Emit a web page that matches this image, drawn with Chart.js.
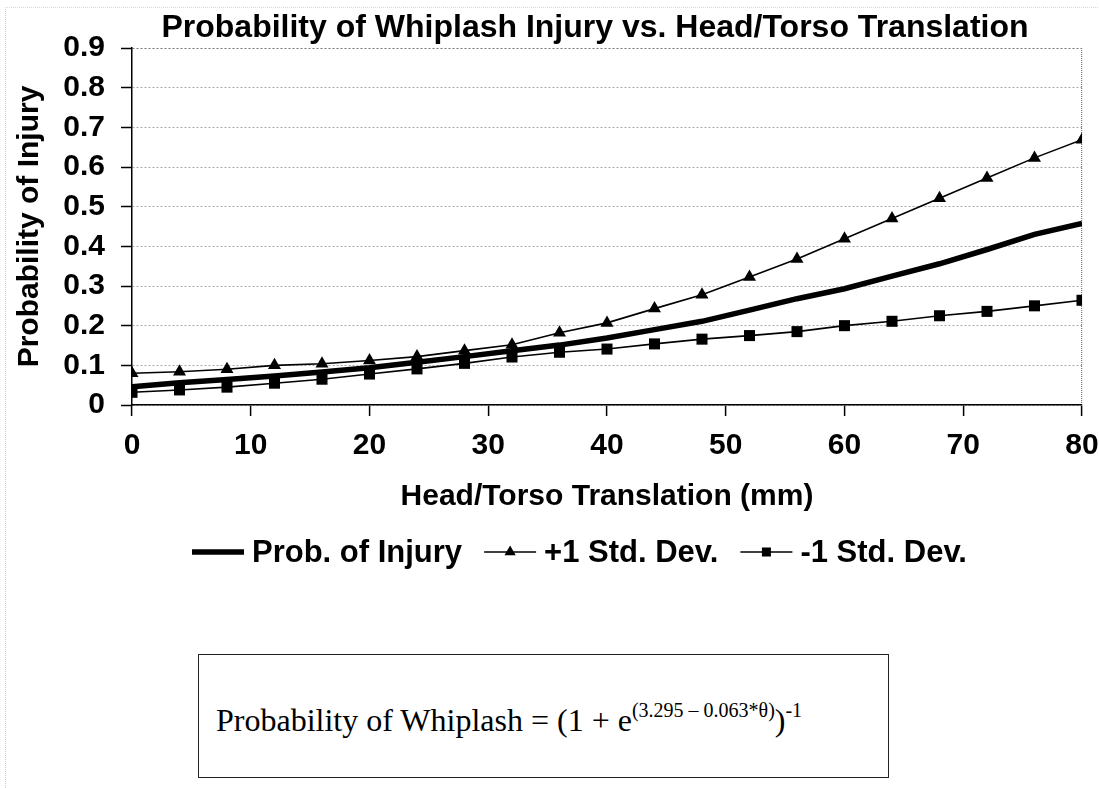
<!DOCTYPE html>
<html>
<head>
<meta charset="utf-8">
<script src="https://cdn.jsdelivr.net/npm/chart.js@4.4.0/dist/chart.umd.min.js"></script>
<style>
  html, body { margin: 0; padding: 0; background: #fff; }
  #wrap { position: relative; width: 1099px; height: 788px; overflow: hidden; }
  #c { position: absolute; left: 0; top: 0; }
  #frame { position: absolute; left: 5px; top: 7px; width: 1200px; height: 900px;
           border-left: 1px dotted #c8c8c8; border-top: 1px dotted #d8d8d8; }
  #formula { position: absolute; left: 198px; top: 654px; width: 691px; height: 124px;
             box-sizing: border-box; border: 1.5px solid #222; background: #fff; }
  #formula .f { position: absolute; left: 17px; top: 49px; white-space: nowrap;
                font-family: "Liberation Serif", "Times New Roman", serif; font-size: 32px;
                line-height: 32px; color: #000; }
  #formula sup { font-size: 20px; line-height: 0; vertical-align: 14px; }
</style>
</head>
<body>
<div id="wrap">
  <div id="frame"></div>
  <canvas id="c" width="1099" height="788"></canvas>
  <div id="formula"><span class="f">Probability of Whiplash = (1 + e<sup>(3.295 – 0.063*θ)</sup>)<sup>-1</sup></span></div>
</div>
<script>
// ---- data ----
const titleText = 'Probability of Whiplash Injury vs. Head/Torso Translation';
const xTitle = 'Head/Torso Translation (mm)';
const yTitle = 'Probability of Injury';
const translation = [0, 4, 8, 12, 16, 20, 24, 28, 32, 36, 40, 44, 48, 52, 56, 60, 64, 68, 72, 76, 80];
const probInjury = [0.046, 0.056, 0.064, 0.073, 0.083, 0.094, 0.108, 0.122, 0.137, 0.151, 0.169, 0.190, 0.211, 0.239, 0.268, 0.293, 0.325, 0.356, 0.392, 0.430, 0.458];
const plusOneSD = [0.080, 0.084, 0.090, 0.100, 0.104, 0.112, 0.122, 0.137, 0.152, 0.182, 0.207, 0.243, 0.278, 0.323, 0.368, 0.419, 0.470, 0.521, 0.572, 0.623, 0.669];
const minusOneSD = [0.032, 0.038, 0.045, 0.055, 0.065, 0.078, 0.091, 0.105, 0.121, 0.133, 0.141, 0.154, 0.166, 0.175, 0.185, 0.200, 0.211, 0.225, 0.236, 0.250, 0.264];
const seriesLabels = ['Prob. of Injury', '+1 Std. Dev.', '-1 Std. Dev.'];
const yTickLabels = ['0', '0.1', '0.2', '0.3', '0.4', '0.5', '0.6', '0.7', '0.8', '0.9'];
const xTickLabels = ['0', '10', '20', '30', '40', '50', '60', '70', '80'];

const FONT = '"Liberation Sans", Arial, sans-serif';
const toPts = arr => arr.map((v, i) => ({ x: translation[i], y: v }));

const titlePlugin = {
  id: 'titleText',
  afterDraw(chart) {
    const ctx = chart.ctx;
    ctx.save();
    ctx.font = 'bold 32px ' + FONT;
    ctx.fillStyle = '#000';
    ctx.textAlign = 'center';
    ctx.textBaseline = 'middle';
    ctx.fillText(titleText, 595, 28);
    ctx.restore();
  }
};

const legendPlugin = {
  id: 'customLegend',
  afterDraw(chart) {
    const ctx = chart.ctx;
    const y = 552;
    let x = 192;
    const lineLen = 52, gap = 8, itemGap = 22;
    ctx.save();
    ctx.font = 'bold 31px ' + FONT;
    ctx.textBaseline = 'middle';
    ctx.textAlign = 'left';
    chart.data.datasets.forEach((ds) => {
      ctx.strokeStyle = '#000';
      ctx.fillStyle = '#000';
      ctx.lineWidth = ds.borderWidth;
      ctx.beginPath();
      ctx.moveTo(x, y);
      ctx.lineTo(x + lineLen, y);
      ctx.stroke();
      const cx = x + lineLen / 2;
      if (ds.pointStyle === 'triangle') {
        const r = 6.5;
        ctx.beginPath();
        ctx.moveTo(cx, y - r);
        ctx.lineTo(cx + r * 0.866, y + r * 0.5);
        ctx.lineTo(cx - r * 0.866, y + r * 0.5);
        ctx.closePath();
        ctx.fill();
      } else if (ds.pointStyle === 'rect') {
        ctx.fillRect(cx - 4.5, y - 4.5, 9, 9);
      }
      x += lineLen + gap;
      ctx.fillText(ds.label, x, y + 1);
      x += ctx.measureText(ds.label).width + itemGap;
    });
    ctx.restore();
  }
};

new Chart(document.getElementById('c'), {
  type: 'line',
  data: {
    datasets: [
      { label: seriesLabels[0], data: toPts(probInjury), borderColor: '#000', backgroundColor: '#000',
        borderWidth: 5.5, pointRadius: 0, pointStyle: false, tension: 0, order: 3, borderCapStyle: 'butt' },
      { label: seriesLabels[1], data: toPts(plusOneSD), borderColor: '#000', backgroundColor: '#000',
        borderWidth: 1.6, pointStyle: 'triangle', pointRadius: 7.5, pointBorderWidth: 0, tension: 0, order: 2 },
      { label: seriesLabels[2], data: toPts(minusOneSD), borderColor: '#000', backgroundColor: '#000',
        borderWidth: 1.6, pointStyle: 'rect', pointRadius: 7.8, pointBorderWidth: 0, tension: 0, order: 1 }
    ]
  },
  options: {
    responsive: false,
    animation: false,
    events: [],
    layout: { padding: { top: 48, right: 17, bottom: 273, left: 0 } },
    plugins: { legend: { display: false }, title: { display: false }, tooltip: { enabled: false } },
    scales: {
      x: {
        type: 'linear', min: 0, max: 80,
        ticks: {
          stepSize: 10, color: '#000', padding: 12,
          font: { family: FONT, size: 30, weight: 'bold' },
          callback: (v) => xTickLabels[Math.round(v / 10)]
        },
        grid: {
          drawOnChartArea: true,
          color: (c) => (c.tick && c.tick.value === 80) ? '#777' : 'rgba(0,0,0,0)',
          lineWidth: 1.2,
          tickColor: '#000', tickLength: 11, tickWidth: 1.5
        },
        border: { display: true, color: '#000', width: 1.5, dash: [1, 1] },
        title: { display: true, text: xTitle, color: '#000', padding: { top: 0, bottom: 0 },
                 font: { family: FONT, size: 30, weight: 'bold' } },
        afterFit: (s) => { s.height = 110; s.paddingLeft = 0; s.paddingRight = 0; }
      },
      y: {
        type: 'linear', min: 0, max: 0.9,
        ticks: {
          stepSize: 0.1, color: '#000', padding: 16,
          font: { family: FONT, size: 30, weight: 'bold' },
          callback: (v) => yTickLabels[Math.round(v * 10)]
        },
        grid: {
          color: (c) => (c.tick && Math.round(c.tick.value * 10) === 9) ? '#777' : '#a8a8a8',
          lineWidth: 1,
          tickColor: '#000', tickLength: 11, tickWidth: 1.5
        },
        border: { display: true, color: '#000', width: 1.5, dash: [2, 2] },
        title: { display: true, text: yTitle, color: '#000', padding: { top: 12, bottom: 0 },
                 font: { family: FONT, size: 30, weight: 'bold' } },
        afterFit: (s) => { s.width = 132; s.paddingTop = 0; s.paddingBottom = 0; }
      }
    }
  },
  plugins: [titlePlugin, legendPlugin]
});
</script>
</body>
</html>
